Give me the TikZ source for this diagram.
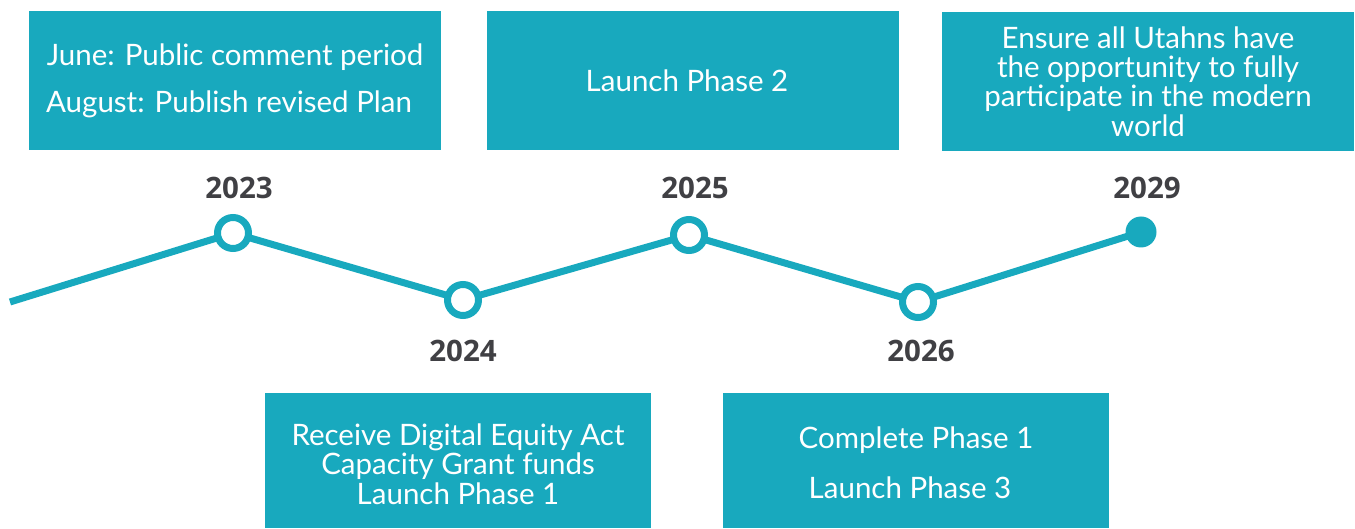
\documentclass[tikz,border=0pt]{standalone}
\usepackage{fontspec}
\setmainfont{Lato}
\newfontfamily\yearfont{Open Sans}
\definecolor{teal}{HTML}{18A9BE}
\definecolor{yeargray}{HTML}{404044}
\begin{document}
\begin{tikzpicture}[x=1pt,y=-1pt,
  box/.style={fill=teal,draw=none,text=white,align=center,font=\fontsize{29.5}{29.3}\selectfont,inner sep=0pt},
  dot/.style={circle,draw=teal,line width=7pt,fill=white,minimum size=31pt,inner sep=0pt},
  enddot/.style={circle,fill=teal,draw=none,minimum size=31pt,inner sep=0pt},
  year/.style={text=yeargray,font=\yearfont\bfseries\fontsize{29.5}{32}\selectfont,inner sep=0pt},
  tline/.style={draw=teal,line width=7pt}]
\useasboundingbox (0,0) rectangle (1355,529);
% boxes
\node[box,minimum width=412pt,minimum height=139pt] (b1) at (235,80.5) {};
\node[box,anchor=center] (t1a) at (235,57) {June: Public comment period};
\node[box,anchor=center] (t1b) at (229,104) {August: Publish revised Plan};
\node[box,minimum width=412pt,minimum height=139pt] (b2) at (693,80.5) {};
\node[box] (t2) at (687,81) {Launch Phase 2};
\node[box,minimum width=412pt,minimum height=139pt] (b3) at (1148,81.5) {Ensure all Utahns have\\the opportunity to fully\\participate in the modern\\world};
\node[box,minimum width=386pt,minimum height=135pt] (b4) at (458,460.5) {};
\node[box] (t4) at (458,464) {Receive Digital Equity Act\\Capacity Grant funds\\Launch Phase 1};
\node[box,minimum width=386pt,minimum height=135pt] (b5) at (916,460.5) {};
\node[box] (t5a) at (916,440) {Complete Phase 1};
\node[box] (t5b) at (910,488) {Launch Phase 3};
% timeline
\coordinate (s) at (10,302);
\coordinate (p1) at (233,233);
\coordinate (p2) at (463,300);
\coordinate (p3) at (689,235);
\coordinate (p4) at (918,302);
\coordinate (p5) at (1141,232);
\draw[tline] (s) -- (p1) -- (p2) -- (p3) -- (p4) -- (p5);
\node[dot] (d1) at (p1) {};
\node[dot] (d2) at (p2) {};
\node[dot] (d3) at (p3) {};
\node[dot] (d4) at (p4) {};
\node[enddot] (d5) at (p5) {};
% years
\node[year] (y1) at (239,188) {2023};
\node[year] (y2) at (463,351) {2024};
\node[year] (y3) at (695,188) {2025};
\node[year] (y4) at (921,351) {2026};
\node[year] (y5) at (1147,188) {2029};
\end{tikzpicture}
\end{document}
